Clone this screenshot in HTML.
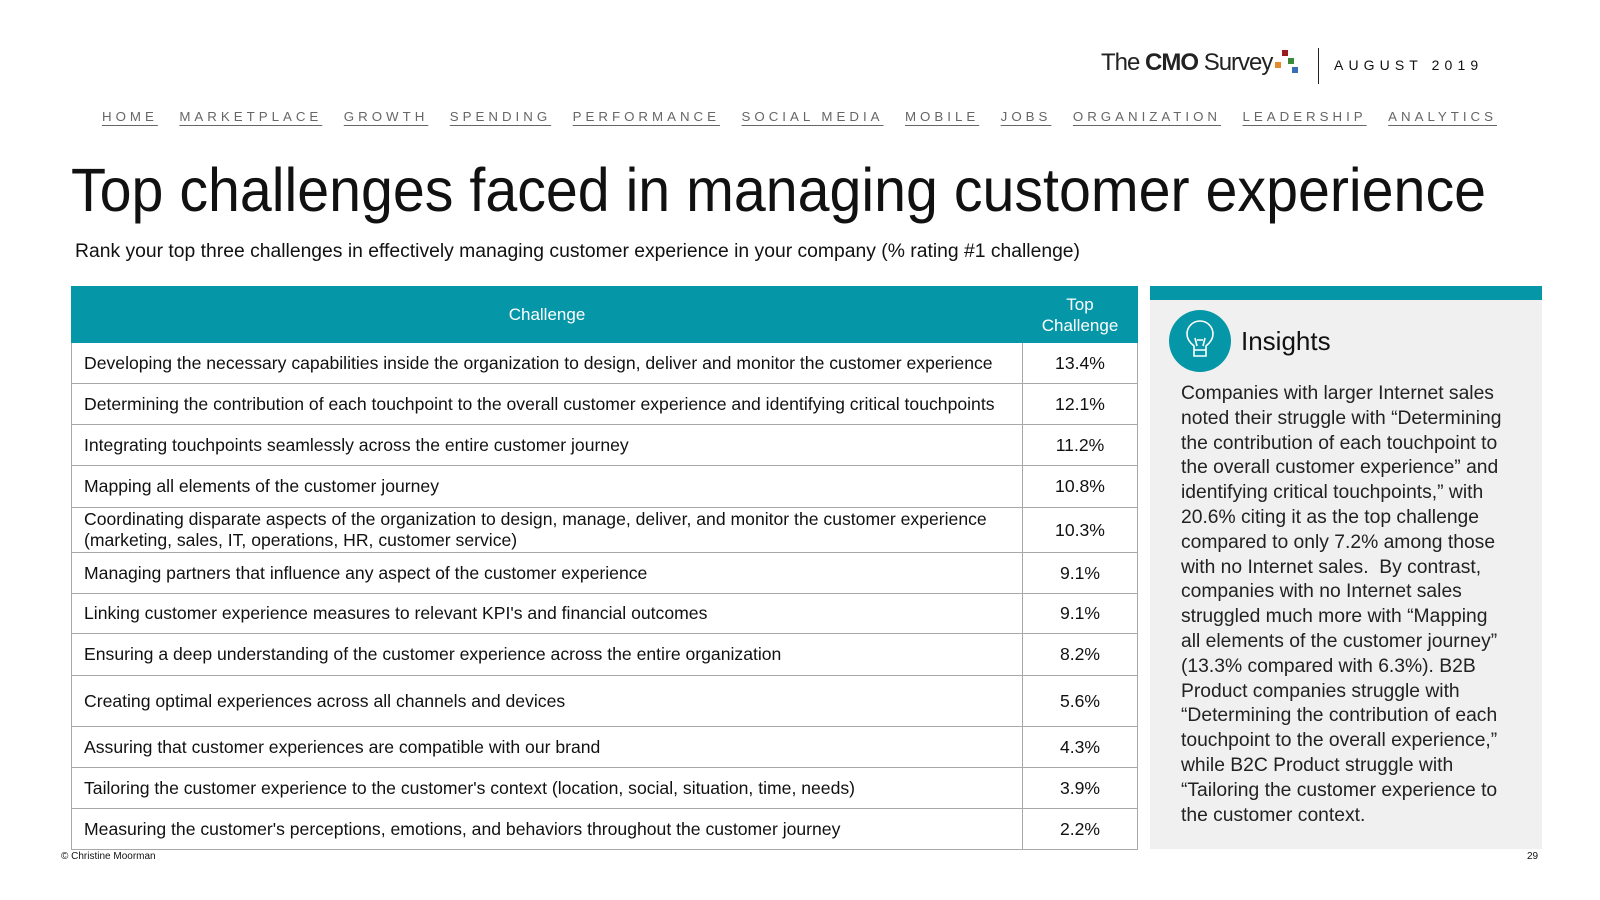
<!DOCTYPE html>
<html><head><meta charset="utf-8">
<style>
body{margin:0;width:1600px;height:900px;background:#fff;font-family:"Liberation Sans",sans-serif;color:#111;position:relative;overflow:hidden}
.a{position:absolute;white-space:nowrap}
.fit{transform-origin:0 50%;display:inline-block}
table{position:absolute;left:71px;top:286px;border-collapse:collapse;width:1067px;font-size:17.6px;table-layout:fixed}
td,th{border:1px solid #a8a8a8;padding:0 0 0 12px;font-weight:normal;line-height:21px;white-space:nowrap}
th{background:#0596a8;color:#fff;border-color:#0596a8;text-align:center;padding:0;font-size:17px}
td.v{text-align:center;padding:0}
.nav a{color:#666;text-decoration:underline;text-underline-offset:4px;margin-right:21px}
</style></head><body>
<div class="a" style="left:1101px;top:49px;font-size:24px;letter-spacing:-1px;color:#222">The <b style="letter-spacing:-1px">CMO</b> Survey</div>
<svg class="a" style="left:1272px;top:48px" width="32" height="30"><rect x="10" y="2" width="6" height="6" fill="#9b1c1c"/><rect x="3" y="14" width="6" height="6" fill="#e48a2a"/><rect x="16" y="10" width="6" height="6" fill="#3a8a3a"/><rect x="20" y="19" width="6" height="6" fill="#3a6fb5"/></svg>
<div class="a" style="left:1318px;top:48px;width:1px;height:36px;background:#222"></div>
<div class="a" style="left:1334px;top:57px;font-size:14px;letter-spacing:5.1px">AUGUST 2019</div>
<div class="a nav" style="left:102px;top:109px;font-size:13px;letter-spacing:3.9px"><span class="fit" id="nav">
<a>HOME</a><a>MARKETPLACE</a><a>GROWTH</a><a>SPENDING</a><a>PERFORMANCE</a><a>SOCIAL MEDIA</a><a>MOBILE</a><a>JOBS</a><a>ORGANIZATION</a><a>LEADERSHIP</a><a style="margin:0">ANALYTICS</a></span></div>
<div class="a" style="left:71px;top:155px;font-size:61px;line-height:70px"><span class="fit" id="title">Top challenges faced in managing customer experience</span></div>
<div class="a" style="left:75px;top:240px;font-size:19px;line-height:24px"><span class="fit" id="sub">Rank your top three challenges in effectively managing customer experience in your company (% rating #1 challenge)</span></div>
<table>
<colgroup><col><col style="width:115px"></colgroup>
<tr style="height:56px"><th>Challenge</th><th>Top<br>Challenge</th></tr>
<tr style="height:41px"><td>Developing the necessary capabilities inside the organization to design, deliver and monitor the customer experience</td><td class="v">13.4%</td></tr>
<tr style="height:41px"><td>Determining the contribution of each touchpoint to the overall customer experience and identifying critical touchpoints</td><td class="v">12.1%</td></tr>
<tr style="height:41px"><td>Integrating touchpoints seamlessly across the entire customer journey</td><td class="v">11.2%</td></tr>
<tr style="height:42px"><td>Mapping all elements of the customer journey</td><td class="v">10.8%</td></tr>
<tr style="height:45px"><td>Coordinating disparate aspects of the organization to design, manage, deliver, and monitor the customer experience<br>(marketing, sales, IT, operations, HR, customer service)</td><td class="v">10.3%</td></tr>
<tr style="height:41px"><td>Managing partners that influence any aspect of the customer experience</td><td class="v">9.1%</td></tr>
<tr style="height:40px"><td>Linking customer experience measures to relevant KPI's and financial outcomes</td><td class="v">9.1%</td></tr>
<tr style="height:42px"><td>Ensuring a deep understanding of the customer experience across the entire organization</td><td class="v">8.2%</td></tr>
<tr style="height:51px"><td>Creating optimal experiences across all channels and devices</td><td class="v">5.6%</td></tr>
<tr style="height:41px"><td>Assuring that customer experiences are compatible with our brand</td><td class="v">4.3%</td></tr>
<tr style="height:41px"><td>Tailoring the customer experience to the customer's context (location, social, situation, time, needs)</td><td class="v">3.9%</td></tr>
<tr style="height:41px"><td>Measuring the customer's perceptions, emotions, and behaviors throughout the customer journey</td><td class="v">2.2%</td></tr>
</table>
<div class="a" style="left:1150px;top:286px;width:392px;height:563px;background:#f0f0f0;border-top:14px solid #0596a8;box-sizing:border-box"></div>
<svg class="a" style="left:1169px;top:310px" width="62" height="62"><circle cx="31" cy="31" r="31" fill="#0596a8"/><path d="M25 40 v-4 c-5-4-7-8-7-12 a13 13 0 0 1 26 0 c0 4-2 8-7 12 v4 z M25 40 h12 v6 h-12 z M28 36 l-2-8 M34 36 l2-8 M28 30 h6" fill="none" stroke="#fff" stroke-width="1.6"/></svg>
<div class="a" style="left:1241px;top:326px;font-size:26px">Insights</div>
<div class="a" style="left:1181px;top:382px;font-size:19.3px;line-height:24.8px;color:#222">Companies with larger Internet sales<br>noted their struggle with “Determining<br>the contribution of each touchpoint to<br>the overall customer experience” and<br>identifying critical touchpoints,” with<br>20.6% citing it as the top challenge<br>compared to only 7.2% among those<br>with no Internet sales.&nbsp; By contrast,<br>companies with no Internet sales<br>struggled much more with “Mapping<br>all elements of the customer journey”<br>(13.3% compared with 6.3%). B2B<br>Product companies struggle with<br>“Determining the contribution of each<br>touchpoint to the overall experience,”<br>while B2C Product struggle with<br>“Tailoring the customer experience to<br>the customer context.</div>
<div class="a" style="left:61px;top:851px;font-size:10px">© Christine Moorman</div>
<div class="a" style="left:1527px;top:851px;font-size:10px">29</div>
<script>
function fit(id,w){var e=document.getElementById(id);var s=w/e.getBoundingClientRect().width;e.style.transform='scaleX('+s+')';}
fit('title',1415);fit('sub',1005);fit('nav',1395);
</script>
</body></html>
